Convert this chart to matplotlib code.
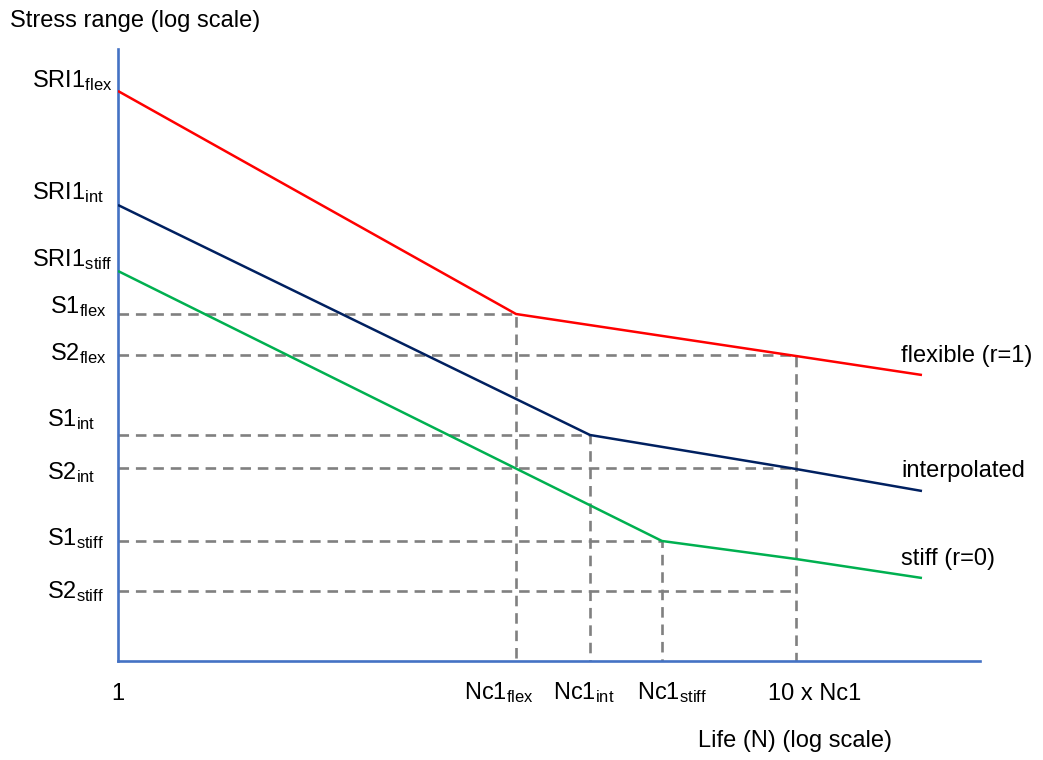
import matplotlib
matplotlib.use("Agg")
import matplotlib.pyplot as plt

plt.rcParams["font.family"] = ["Liberation Sans", "DejaVu Sans"]
plt.rcParams["mathtext.fontset"] = "custom"
plt.rcParams["mathtext.rm"] = "Liberation Sans"
plt.rcParams["mathtext.it"] = "Liberation Sans:italic"

# schematic S-N curves, both axes in log units (arbitrary)
series = ["flex", "int", "stiff"]
curve_names = ["flexible (r=1)", "interpolated", "stiff (r=0)"]
colors = ["#FF0000", "#002060", "#00B050"]

n_knee = [398, 472, 544]      # Nc1 for each curve
n_10x = 678                   # 10 x Nc1
n_end = 804
sri1 = [570, 456, 390]        # stress at N = 1
s1 = [347, 226, 120]          # S1 guide levels (at knee)
s2 = [306, 193, 70]           # S2 guide levels
s_10x = [305, 192, 102]       # curve values at 10 x Nc1
s_end = [286, 170, 83]

X_MAX, Y_MAX = 862, 612
FS = 17
GUIDE = dict(color="#808080", lw=1.9, dashes=(4, 2.6))

fig = plt.figure(figsize=(10.43, 7.6), dpi=100)
ax = fig.add_axes([118 / 1043, 99 / 760, 862 / 1043, 612 / 760])
ax.set_xlim(0, X_MAX)
ax.set_ylim(0, Y_MAX)
ax.set_xticks([])
ax.set_yticks([])
for side in ["top", "right"]:
    ax.spines[side].set_visible(False)
for side in ["left", "bottom"]:
    ax.spines[side].set_color("#4472C4")
    ax.spines[side].set_linewidth(1.9)

# dashed guide lines
for i in range(3):
    ax.plot([0, n_knee[i], n_knee[i]], [s1[i], s1[i], 0], **GUIDE)
ax.plot([0, n_10x, n_10x], [s2[0], s2[0], 0], **GUIDE)
ax.plot([0, n_10x], [s2[1], s2[1]], **GUIDE)
ax.plot([0, n_10x], [s2[2], s2[2]], **GUIDE)

# curves
for i in range(3):
    ax.plot([0, n_knee[i], n_10x, n_end],
            [sri1[i], s1[i], s_10x[i], s_end[i]],
            color=colors[i], lw=1.8, solid_capstyle="butt", zorder=3)

# y labels (baseline positions)
def lab(x, y, s, **kw):
    ax.text(x, y, s, fontsize=FS, va="baseline", clip_on=False, **kw)

sri_y = [574, 462, 395]
s1_y = [348, 235, 116]
s2_y = [301, 182, 63]
s_x = [-68, -71, -71]
for i, name in enumerate(series):
    lab(-86, sri_y[i], r"SRI1$_{\mathrm{%s}}$" % name)
    lab(s_x[i], s1_y[i], r"S1$_{\mathrm{%s}}$" % name)
    lab(s_x[i], s2_y[i], r"S2$_{\mathrm{%s}}$" % name)

# x labels
lab(0, -39, "1", ha="center")
nc_x = [346, 435, 519]
for i, name in enumerate(series):
    lab(nc_x[i], -38, r"Nc1$_{\mathrm{%s}}$" % name)
lab(650, -39, "10 x Nc1")

# curve names
name_y = [299, 184, 96]
for i in range(3):
    lab(783, name_y[i], curve_names[i])

# axis titles
lab(-108, 634, "Stress range (log scale)")
lab(580, -86, "Life (N) (log scale)")

fig.savefig("out.png", dpi=100)
